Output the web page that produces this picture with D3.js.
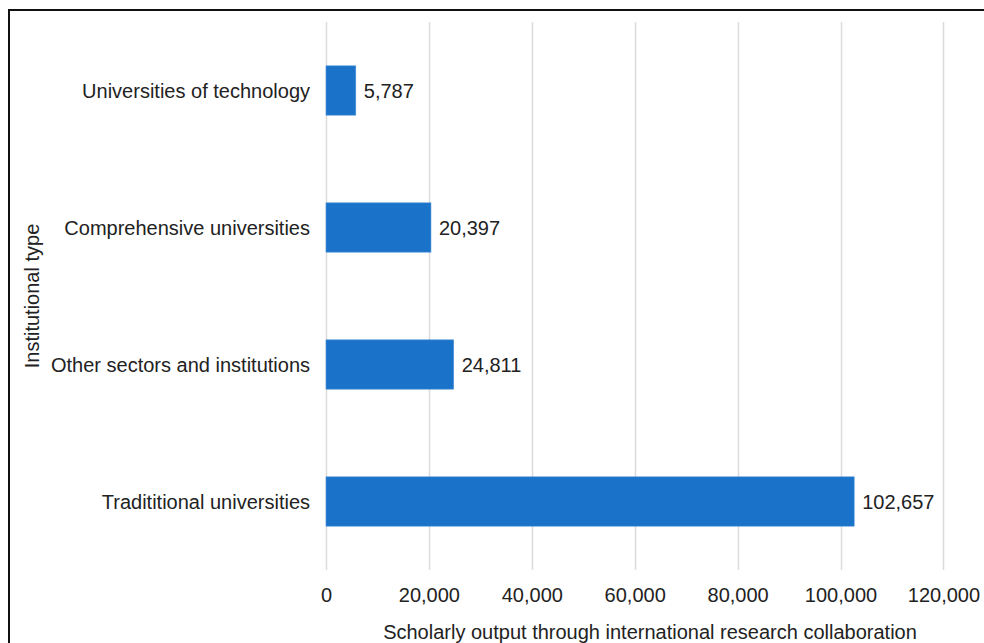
<!DOCTYPE html>
<html>
<head>
<meta charset="utf-8">
<script src="https://cdn.jsdelivr.net/npm/d3@7"></script>
<style>
  html, body { margin: 0; padding: 0; background: #fff; }
  svg { display: block; }
  text { font-family: "Liberation Sans", Arial, Helvetica, sans-serif; fill: #222; }
</style>
</head>
<body>
<svg id="chart" width="984" height="643"></svg>
<script>
// Institutional types, top to bottom
const categories = [
  "Universities of technology",
  "Comprehensive universities",
  "Other sectors and institutions",
  "Tradititional universities"
];
// Scholarly output through international research collaboration
const outputs = [5787, 20397, 24811, 102657];
const xTicks = [0, 20000, 40000, 60000, 80000, 100000, 120000];
const xTitle = "Scholarly output through international research collaboration";
const yTitle = "Institutional type";

const svg = d3.select("#chart");
const plot = { left: 326, right: 943.4, top: 22, bottom: 570 };
const fontSize = "20px";

// outer frame (runs past the right and bottom edges of the view)
svg.append("rect")
  .attr("x", 9).attr("y", 10)
  .attr("width", 1000).attr("height", 700)
  .attr("fill", "none").attr("stroke", "#111").attr("stroke-width", 2);

const x = d3.scaleLinear().domain([0, 120000]).range([plot.left, plot.right]);
const y = d3.scaleBand().domain(categories).range([plot.top, plot.bottom]).paddingInner(0.64).paddingOuter(0.32);

// vertical gridlines
svg.append("g").selectAll("line").data(xTicks).join("line")
  .attr("x1", d => Math.round(x(d)) + 0.5).attr("x2", d => Math.round(x(d)) + 0.5)
  .attr("y1", plot.top).attr("y2", plot.bottom)
  .attr("stroke", "#dcdcdc").attr("stroke-width", 1.5);

// x axis tick labels
const fmt = d3.format(",");
const xAxis = d3.axisBottom(x).tickValues(xTicks).tickFormat(fmt).tickSize(0).tickPadding(0);
const gx = svg.append("g").attr("transform", `translate(0,${plot.bottom})`).call(xAxis);
gx.select(".domain").remove();
gx.selectAll("text")
  .attr("y", 25).attr("dy", "0.35em")
  .style("font-size", fontSize).style("font-family", "Liberation Sans, Arial, sans-serif").attr("fill", "#222");

// y axis category labels
const yAxis = d3.axisLeft(y).tickSize(0).tickPadding(0);
const gy = svg.append("g").attr("transform", `translate(${plot.left - 16},0)`).call(yAxis);
gy.select(".domain").remove();
gy.selectAll("text")
  .attr("dy", "0.35em")
  .style("font-size", fontSize).style("font-family", "Liberation Sans, Arial, sans-serif").attr("fill", "#222");

// bars
svg.append("g").selectAll("rect").data(categories).join("rect")
  .attr("x", x(0))
  .attr("y", d => y(d))
  .attr("width", (d, i) => x(outputs[i]) - x(0))
  .attr("height", y.bandwidth())
  .attr("fill", "#1a73c9")
  .attr("stroke", "#4a90d6").attr("stroke-width", 0.6);

// value labels
svg.append("g").selectAll("text").data(categories).join("text")
  .attr("x", (d, i) => x(outputs[i]) + 8)
  .attr("y", d => y(d) + y.bandwidth() / 2)
  .attr("dy", "0.35em")
  .style("font-size", fontSize)
  .text((d, i) => fmt(outputs[i]));

// axis titles
svg.append("text")
  .attr("x", 650).attr("y", 632).attr("dy", "0.35em")
  .attr("text-anchor", "middle")
  .style("font-size", fontSize)
  .text(xTitle);

svg.append("text")
  .attr("transform", `translate(32,${(plot.top + plot.bottom) / 2}) rotate(-90)`)
  .attr("dy", "0.35em")
  .attr("text-anchor", "middle")
  .style("font-size", fontSize)
  .text(yTitle);
</script>
</body>
</html>
